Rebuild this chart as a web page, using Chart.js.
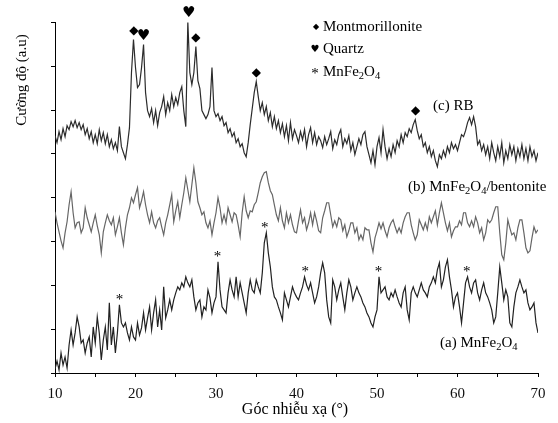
<!DOCTYPE html>
<html>
<head>
<meta charset="utf-8">
<script src="https://cdn.jsdelivr.net/npm/chart.js@4.4.1/dist/chart.umd.min.js"></script>
<style>
    html, body { margin: 0; padding: 0; background: #fff; }
    #xrdChart { display: block; }
</style>
</head>
<body>
<canvas id="xrdChart" width="558" height="423"></canvas>
<script>
// Scan grid: 2-theta from 10 to 70 deg, step 0.25
const scanStart = 10;
const scanStep = 0.25;

// (c) RB - one row per degree
const rbValues = [
    237, 230, 241, 233,  244, 236, 247, 243,  251, 246, 252, 245,  250, 243, 248, 238,
    244, 234, 241, 230,  238, 229, 243, 232,  240, 229, 238, 226,  233, 224, 230, 222,
    246, 226, 220, 214,  228, 245, 300, 333,  305, 285, 288, 305,  328, 280, 262, 256,
    264, 250, 262, 247,  260, 266, 276, 258,  270, 262, 278, 266,  275, 268, 280, 286,
    262, 246, 351, 300,  288, 300, 326, 292,  284, 262, 258, 254,  258, 266, 305, 262,
    256, 259, 252, 256,  247, 250, 240, 244,  236, 240, 230, 234,  226, 229, 220, 216,
    230, 248, 264, 280,  291, 276, 262, 270,  258, 266, 252, 260,  246, 256, 244, 252,
    240, 249, 236, 247,  232, 250, 234, 243,  237, 230, 241, 233,  243, 226, 238, 245,
    230, 240, 228, 236,  232, 225, 236, 228,  234, 241, 224, 233,  228, 238, 243, 226,
    234, 229, 237, 222,  230, 218, 226, 234,  228, 238, 241, 226,  218, 210, 222, 208,
    226, 235, 220, 243,  226, 214, 224, 216,  228, 220, 232, 226,  238, 230, 240, 236,
    244, 240, 248, 253,  242, 234, 238, 226,  230, 220, 226, 216,  222, 212, 206, 218,
    214, 222, 216, 226,  220, 230, 224, 228,  222, 230, 238, 236,  242, 250, 255, 248,
    256, 246, 228, 232,  222, 228, 218, 226,  214, 230, 220, 212,  226, 216, 230, 210,
    222, 214, 228, 218,  226, 212, 224, 216,  228, 214, 224, 212,  226, 216, 222, 212,
    220
];

// (b) MnFe2O4/bentonite
const compositeValues = [
    161, 150, 141, 132,  125, 140, 151, 168,  181, 160, 145, 150,  151, 140, 145, 165,
    155, 148, 141, 150,  158, 147, 138, 120,  141, 150, 158, 152,  148, 155, 138, 146,
    155, 140, 128, 145,  158, 165, 175, 170,  178, 185, 165, 172,  181, 168, 158, 150,
    161, 150, 145, 152,  155, 146, 138, 150,  158, 168, 178, 151,  162, 171, 155, 168,
    180, 195, 183, 171,  188, 205, 190, 171,  165, 158, 161, 150,  145, 152, 138, 150,
    160, 175, 165, 150,  158, 150, 165, 158,  151, 160, 158, 148,  136, 160, 176, 162,
    155, 162, 161, 168,  171, 180, 190, 196,  200, 201, 190, 182,  178, 168, 158, 152,
    165, 152, 145, 160,  150, 158, 148, 141,  140, 152, 163, 150,  155, 143, 150, 160,
    148, 160, 152, 142,  140, 155, 162, 170,  170, 158, 146, 152,  146, 155, 153, 142,
    148, 136, 142, 150,  150, 140, 145, 133,  138, 133, 145, 143,  143, 130, 121, 135,
    142, 150, 144, 150,  142, 136, 145, 150,  153, 146, 140, 145,  140, 150, 156, 160,
    160, 148, 140, 133,  138, 153, 148, 143,  150, 143, 156, 150,  156, 162, 148, 160,
    170, 160, 150, 142,  150, 136, 142, 146,  146, 152, 148, 160,  160, 150, 146, 152,
    146, 156, 150, 140,  145, 133, 140, 153,  150, 153, 160, 166,  166, 140, 118, 113,
    130, 153, 145, 138,  140, 133, 145, 153,  153, 140, 125, 120,  122, 135, 146, 140,
    143
];

// (a) MnFe2O4
const ferriteValues = [
    4, 12, 3, 20,        8, 16, 5, 28,        43, 28, 40, 56,      46, 30, 33, 20,
    30, 36, 16, 46,      30, 56, 40, 13,      33, 46, 23, 70,      28, 46, 20, 40,
    68, 50, 46, 50,      40, 33, 46, 36,      33, 50, 38, 45,      60, 43, 55, 66,
    43, 60, 73, 46,      63, 43, 86, 55,      63, 73, 63, 73,      80, 86, 83, 90,
    86, 96, 90, 86,      93, 76, 63, 70,      73, 56, 66, 63,      83, 75, 60, 70,
    76, 111, 83, 66,     63, 60, 80, 93,      83, 76, 96, 76,      90, 80, 70, 60,
    80, 93, 83, 80,      93, 86, 80, 100,     130, 140, 120, 106,  86, 76, 73, 66,
    60, 53, 80, 73,      66, 76, 86, 80,      76, 73, 80, 86,      96, 88, 83, 90,
    80, 70, 76, 86,      100, 110, 100, 73,   56, 50, 93, 86,      73, 83, 90, 76,
    63, 80, 93, 86,      73, 80, 86, 80,      76, 70, 66, 60,      56, 50, 46, 56,
    63, 96, 80, 83,      86, 76, 73, 80,      76, 83, 76, 70,      66, 80, 86, 63,
    53, 80, 86, 80,      76, 83, 90, 83,      80, 76, 86, 90,      96, 90, 103, 110,
    86, 93, 106, 113,    96, 83, 66, 76,      80, 66, 50, 70,      90, 96, 86, 80,
    90, 93, 80, 73,      83, 90, 80, 76,      70, 63, 50, 56,      80, 106, 90, 73,
    83, 76, 50, 46,      66, 80, 86, 93,      86, 80, 83, 70,      63, 66, 70, 50,
    40
];

// Peak markers (2-theta, deg)
const montmorillonitePeaks = [19.8, 27.5, 35.0, 54.8];
const quartzPeaks = [21.0, 26.6];
const ferritePeaks = [18.0, 30.2, 36.05, 41.1, 50.2, 61.15];

// Y axis (a.u.)
const yMax = 350;
const yStep = 43.75;

const serif = '"Liberation Serif", "Times New Roman", serif';
const symbolFont = '"DejaVu Sans", sans-serif';

document.addEventListener('DOMContentLoaded', function() {
    const toPoints = values => values.map((v, i) => ({ x: scanStart + i * scanStep, y: v }));

    function peakValue(series, deg) {
        const pos = (deg - scanStart) / scanStep;
        return Math.max(series[Math.floor(pos)], series[Math.ceil(pos)]);
    }

    // Draws text with subscript parts: parts = [[text, isSub], ...]
    function drawRich(ctx, parts, x, y, size) {
        ctx.textAlign = 'left';
        ctx.textBaseline = 'middle';
        let cx = x;
        parts.forEach(([text, sub]) => {
            ctx.font = (sub ? size * 0.7 : size) + 'px ' + serif;
            ctx.fillText(text, cx, sub ? y + size * 0.25 : y);
            cx += ctx.measureText(text).width;
        });
    }

    const annotations = {
        id: 'annotations',
        afterDraw(chart) {
            const ctx = chart.ctx;
            const xs = chart.scales.x;
            const ys = chart.scales.y;
            ctx.save();
            ctx.fillStyle = '#000';

            // peak symbols
            ctx.textAlign = 'center';
            ctx.textBaseline = 'middle';
            ctx.font = '12px ' + symbolFont;
            montmorillonitePeaks.forEach(d => {
                ctx.fillText('\u25C6', xs.getPixelForValue(d), ys.getPixelForValue(peakValue(rbValues, d)) - 9);
            });
            ctx.font = '15px ' + symbolFont;
            quartzPeaks.forEach(d => {
                ctx.fillText('\u2665', xs.getPixelForValue(d), ys.getPixelForValue(peakValue(rbValues, d)) - 8);
            });
            ctx.font = '15px ' + serif;
            ferritePeaks.forEach(d => {
                ctx.fillText('*', xs.getPixelForValue(d), ys.getPixelForValue(peakValue(ferriteValues, d)) - 5);
            });

            // legend block
            ctx.font = '8px ' + symbolFont;
            ctx.fillText('\u25C6', 316, 27);
            ctx.font = '10px ' + symbolFont;
            ctx.fillText('\u2665', 315, 49);
            ctx.font = '15px ' + serif;
            ctx.fillText('*', 315, 74);
            drawRich(ctx, [['Montmorillonite', false]], 323, 27, 15);
            drawRich(ctx, [['Quartz', false]], 323, 49, 15);
            drawRich(ctx, [['MnFe', false], ['2', true], ['O', false], ['4', true]], 323, 72, 15);

            // series labels
            drawRich(ctx, [['(c) RB', false]], 433, 106, 15);
            drawRich(ctx, [['(b) MnFe', false], ['2', true], ['O', false], ['4', true], ['/bentonite', false]], 408, 187, 15);
            drawRich(ctx, [['(a) MnFe', false], ['2', true], ['O', false], ['4', true]], 440, 343, 15);

            // axis titles
            ctx.font = '16px ' + serif;
            ctx.textAlign = 'center';
            ctx.fillText('Góc nhiễu xạ (°)', 295, 410);
            ctx.font = '15px ' + serif;
            ctx.translate(22, 80);
            ctx.rotate(-Math.PI / 2);
            ctx.fillText('Cường độ (a.u)', 0, 0);
            ctx.restore();
        }
    };

    const ctx = document.getElementById('xrdChart').getContext('2d');
    new Chart(ctx, {
        type: 'line',
        data: {
            datasets: [
                { label: '(c) RB', data: toPoints(rbValues), borderColor: '#2c2c2c' },
                { label: '(b) MnFe2O4/bentonite', data: toPoints(compositeValues), borderColor: '#666666' },
                { label: '(a) MnFe2O4', data: toPoints(ferriteValues), borderColor: '#222222' }
            ]
        },
        options: {
            responsive: false,
            animation: false,
            devicePixelRatio: 1,
            layout: { padding: { top: 22.5, right: 20, bottom: 0, left: 0 } },
            elements: {
                point: { radius: 0 },
                line: { borderWidth: 1.2, tension: 0 }
            },
            plugins: {
                legend: { display: false },
                tooltip: { enabled: false }
            },
            scales: {
                x: {
                    type: 'linear',
                    min: 10,
                    max: 70,
                    afterFit: scale => { scale.height = 50; },
                    ticks: {
                        stepSize: 5,
                        autoSkip: false,
                        maxRotation: 0,
                        padding: 8,
                        color: '#111',
                        font: { family: serif, size: 15 },
                        callback: v => (v % 10 === 0 ? v : '')
                    },
                    grid: { drawOnChartArea: false, drawTicks: true, tickLength: 4, color: '#000' },
                    border: { display: true, color: '#000', width: 1 }
                },
                y: {
                    min: 0,
                    max: yMax,
                    afterFit: scale => { scale.width = 55; },
                    ticks: { stepSize: yStep, callback: () => '' },
                    grid: { drawOnChartArea: false, drawTicks: true, tickLength: 4, color: '#000' },
                    border: { display: true, color: '#000', width: 1 }
                }
            }
        },
        plugins: [annotations]
    });
});
</script>
</body>
</html>
